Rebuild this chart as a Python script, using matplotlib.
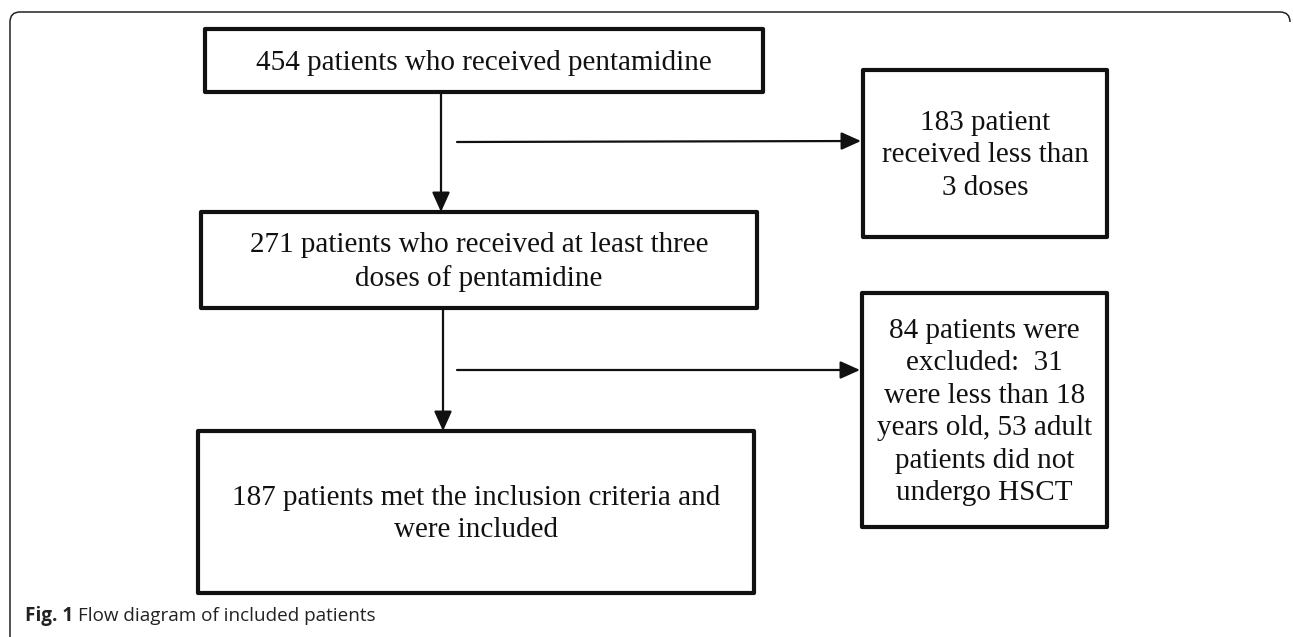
import matplotlib
matplotlib.use("Agg")
import matplotlib.pyplot as plt
from matplotlib.patches import Rectangle, PathPatch
from matplotlib.path import Path

# ---- content ----
box_texts = [
    "454 patients who received pentamidine",
    "183 patient\nreceived less than\n3 doses",
    "271 patients who received at least three\ndoses of pentamidine",
    "84 patients were\nexcluded:  31\nwere less than 18\nyears old, 53 adult\npatients did not\nundergo HSCT",
    "187 patients met the inclusion criteria and\nwere included",
]
caption_bold = "Fig. 1"
caption_text = "Flow diagram of included patients"

# ---- layout (pixel coordinates, y downward) ----
boxes = [
    (205, 29, 763, 92),
    (863, 70, 1107, 237),
    (201, 212, 757, 308),
    (862, 293, 1107, 527),
    (198, 431, 754, 593),
]

W, H = 1293, 637
fig = plt.figure(figsize=(W / 100, H / 100), dpi=100)
ax = fig.add_axes([0, 0, 1, 1])
ax.set_xlim(0, W)
ax.set_ylim(H, 0)
ax.axis("off")

serif = ["Liberation Serif", "DejaVu Serif"]

for (x0, y0, x1, y1), txt in zip(boxes, box_texts):
    ax.add_patch(Rectangle((x0, y0), x1 - x0, y1 - y0, fill=False,
                           lw=3.0, edgecolor="#111111", joinstyle="round"))
    ax.text((x0 + x1) / 2, (y0 + y1) / 2 + 2, txt, ha="center", va="center",
            fontsize=21, family=serif, color="#111111", linespacing=1.32)

arrow_kw = dict(arrowstyle="-|>,head_length=0.6,head_width=0.27", lw=1.6,
                color="#111111", shrinkA=0, shrinkB=0, mutation_scale=20)
# vertical arrows
ax.annotate("", xy=(441, 212), xytext=(441, 92), arrowprops=arrow_kw)
ax.annotate("", xy=(443, 431), xytext=(443, 308), arrowprops=arrow_kw)
# horizontal arrows
ax.annotate("", xy=(861, 141), xytext=(457, 142), arrowprops=arrow_kw)
ax.annotate("", xy=(860, 370), xytext=(457, 370), arrowprops=arrow_kw)

# outer frame with rounded top corners, open at the bottom/right
r = 10
lx, ty, rx = 10, 12, 1290
verts = [(lx, H + 5), (lx, ty + r), (lx, ty), (lx + r, ty),
         (rx - r, ty), (rx, ty), (rx, ty + r)]
codes = [Path.MOVETO, Path.LINETO, Path.CURVE3, Path.CURVE3,
         Path.LINETO, Path.CURVE3, Path.CURVE3]
ax.add_patch(PathPatch(Path(verts, codes), fill=False, lw=1.1,
                       edgecolor="#222222"))

# caption
sans = ["Open Sans", "DejaVu Sans"]
t1 = ax.text(25, 621, caption_bold, fontsize=13.6, fontweight="bold",
             family=sans, color="#222222", va="baseline", ha="left")
renderer = fig.canvas.get_renderer()
bb = t1.get_window_extent(renderer)
x_end = ax.transData.inverted().transform((bb.x1, bb.y0))[0]
ax.text(x_end + 5, 621, caption_text, fontsize=13.6, family=sans,
        color="#222222", va="baseline", ha="left")

fig.savefig("out.png", dpi=100, facecolor="white")
